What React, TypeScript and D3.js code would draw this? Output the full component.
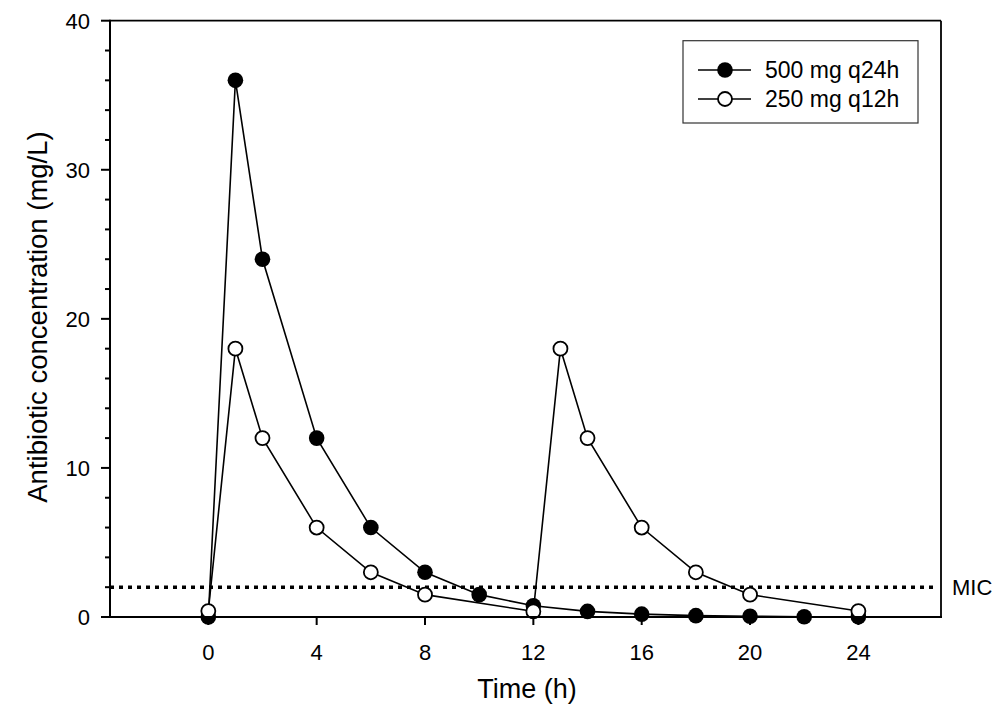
import React from "react";
import * as d3 from "d3";

const timesA = [0, 1, 2, 4, 6, 8, 10, 12, 14, 16, 18, 20, 22, 24];
const valuesA = [0, 36, 24, 12, 6, 3, 1.5, 0.75, 0.375, 0.19, 0.09, 0.05, 0.02, 0.01];
const timesB = [0, 1, 2, 4, 6, 8, 12, 13, 14, 16, 18, 20, 24];
const valuesB = [0.4, 18, 12, 6, 3, 1.5, 0.375, 18, 12, 6, 3, 1.5, 0.4];
const seriesNames = ["500 mg q24h", "250 mg q12h"];
const xTicks = [0, 4, 8, 12, 16, 20, 24];
const yMajor = [0, 10, 20, 30, 40];
const yMinor = [2, 4, 6, 8, 12, 14, 16, 18, 22, 24, 26, 28, 32, 34, 36, 38];
const micValue = 2;
const xLabel = "Time (h)";
const yLabel = "Antibiotic concentration (mg/L)";

const W = 1004, H = 723;
const L = 110, R = 941, T = 20.7, B = 617;
const FONT = "'Liberation Sans', Arial, Helvetica, sans-serif";

export default function App() {
  const x = d3.scaleLinear().domain([-3.63, 27.05]).range([L, R]);
  const y = d3.scaleLinear().domain([0, 40]).range([B, T]);
  const line = d3.line<[number, number]>().x(d => x(d[0])).y(d => y(d[1]));
  const dataA: [number, number][] = timesA.map((t, i) => [t, valuesA[i]]);
  const dataB: [number, number][] = timesB.map((t, i) => [t, valuesB[i]]);
  const rr = 7.8;

  return (
    <svg width={W} height={H} style={{ position: "absolute", left: 0, top: 0, background: "#fff" }} fontFamily={FONT}>
      <rect x={0} y={0} width={W} height={H} fill="#fff" />
      {/* frame */}
      <line x1={L} y1={T} x2={R} y2={T} stroke="#000" strokeWidth={1.8} />
      <line x1={R} y1={T} x2={R} y2={B} stroke="#000" strokeWidth={1.8} />
      {/* MIC */}
      <line x1={L} y1={y(micValue)} x2={R - 3} y2={y(micValue)} stroke="#000" strokeWidth={3.5} strokeDasharray="4,5" />
      <text x={952} y={y(micValue)} dy="0.36em" fontSize={22}>MIC</text>
      {/* lines */}
      <path d={line(dataB) || ""} fill="none" stroke="#000" strokeWidth={1.6} />
      <path d={line(dataA) || ""} fill="none" stroke="#000" strokeWidth={1.6} />
      {dataA.map((d, i) => (
        <circle key={"a" + i} cx={x(d[0])} cy={y(d[1])} r={rr} fill="#000" />
      ))}
      {dataB.map((d, i) => (
        <circle key={"b" + i} cx={x(d[0])} cy={y(d[1])} r={rr - 0.8} fill="#fff" stroke="#000" strokeWidth={1.8} />
      ))}
      {/* axes */}
      <line x1={L} y1={T - 1} x2={L} y2={B + 1} stroke="#000" strokeWidth={2} />
      <line x1={L - 1} y1={B} x2={R + 1} y2={B} stroke="#000" strokeWidth={2} />
      {yMajor.map(v => (
        <g key={"ym" + v}>
          <line x1={L - 9} x2={L} y1={y(v)} y2={y(v)} stroke="#000" strokeWidth={2} />
          <text x={L - 20} y={y(v)} dy="0.36em" textAnchor="end" fontSize={22}>{v}</text>
        </g>
      ))}
      {yMinor.map(v => (
        <line key={"yn" + v} x1={L - 5} x2={L} y1={y(v)} y2={y(v)} stroke="#000" strokeWidth={2} />
      ))}
      {xTicks.map(v => (
        <g key={"xt" + v}>
          <line x1={x(v)} x2={x(v)} y1={B} y2={B + 8} stroke="#000" strokeWidth={2} />
          <text x={x(v)} y={652} dy="0.36em" textAnchor="middle" fontSize={22}>{v}</text>
        </g>
      ))}
      <text x={527} y={698} textAnchor="middle" fontSize={27}>{xLabel}</text>
      <text transform={`translate(47,317) rotate(-90)`} textAnchor="middle" fontSize={27.5}>{yLabel}</text>
      {/* legend */}
      <rect x={683} y={40.7} width={235} height={82.3} fill="#fff" stroke="#333" strokeWidth={1.2} />
      {seriesNames.map((n, i) => {
        const ly = 70 + i * 29;
        return (
          <g key={"lg" + i}>
            <line x1={698} x2={751} y1={ly} y2={ly} stroke="#000" strokeWidth={1.6} />
            {i === 0 ? (
              <circle cx={725} cy={ly} r={rr} fill="#000" />
            ) : (
              <circle cx={725} cy={ly} r={rr - 0.8} fill="#fff" stroke="#000" strokeWidth={1.8} />
            )}
            <text x={765} y={ly} dy="0.36em" fontSize={23}>{n}</text>
          </g>
        );
      })}
    </svg>
  );
}
